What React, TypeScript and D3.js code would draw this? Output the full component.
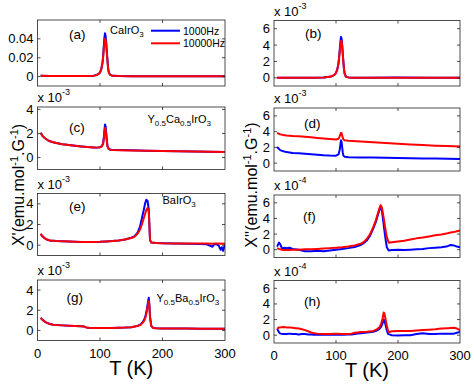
import React from 'react';
import * as d3 from 'd3';

// temperatures (K) and susceptibilities
// (b)-(h) are stored in units of the axis multiplier (x10^-3 / x10^-4)
const tA = [5, 20, 40, 60, 80, 90, 95, 98, 100, 102, 104, 105, 106, 107, 108, 109, 110, 111, 112, 113, 114, 116, 120, 130, 150, 200, 250, 300];
const a1000 = [0.0009, 0.0006, 0.0005, 0.0005, 0.0006, 0.001, 0.0018, 0.003, 0.0045, 0.008, 0.015, 0.022, 0.032, 0.041, 0.046, 0.043, 0.036, 0.026, 0.017, 0.009, 0.005, 0.002, 0.0008, 0.0005, 0.0004, 0.0003, 0.0003, 0.0003];
const a10000 = [0.0009, 0.0006, 0.0005, 0.0005, 0.0006, 0.001, 0.0017, 0.0028, 0.0042, 0.0075, 0.014, 0.02, 0.029, 0.036, 0.04, 0.039, 0.033, 0.024, 0.016, 0.0085, 0.0045, 0.0018, 0.0008, 0.0005, 0.0004, 0.0003, 0.0003, 0.0003];

const tB = tA;
const b1000 = [0.02, 0, 0, 0, 0.05, 0.12, 0.25, 0.4, 0.6, 1.0, 1.8, 2.5, 3.4, 4.3, 5.0, 4.8, 4.0, 2.9, 1.9, 1.0, 0.5, 0.15, 0.05, 0.02, 0, 0.03, 0.02, 0];
const b10000 = [0.02, 0, 0, 0, 0.05, 0.12, 0.25, 0.4, 0.6, 1.0, 1.7, 2.4, 3.2, 4.0, 4.5, 4.5, 3.8, 2.8, 1.8, 0.95, 0.45, 0.13, 0.05, 0.02, 0, 0.02, 0.01, 0];

const tC = [5, 8, 12, 16, 20, 25, 30, 40, 50, 60, 70, 80, 90, 95, 100, 103, 105, 106, 107, 108, 109, 110, 111, 112, 114, 116, 120, 130, 150, 175, 200, 225, 250, 275, 300];
const c1000 = [2.05, 1.8, 1.6, 1.45, 1.35, 1.27, 1.2, 1.1, 1.03, 0.97, 0.92, 0.88, 0.84, 0.82, 0.85, 0.95, 1.2, 1.6, 2.2, 2.75, 2.6, 2.0, 1.4, 0.95, 0.72, 0.66, 0.63, 0.62, 0.6, 0.56, 0.53, 0.52, 0.5, 0.48, 0.46];
const c10000 = [2.05, 1.8, 1.6, 1.45, 1.35, 1.27, 1.2, 1.1, 1.03, 0.97, 0.92, 0.88, 0.84, 0.82, 0.85, 0.93, 1.15, 1.5, 2.0, 2.45, 2.35, 1.85, 1.3, 0.9, 0.7, 0.65, 0.63, 0.61, 0.59, 0.56, 0.53, 0.51, 0.49, 0.47, 0.45];

const tD = [5, 10, 15, 20, 30, 40, 50, 60, 70, 80, 90, 100, 104, 106, 107, 108, 109, 110, 111, 112, 114, 120, 140, 160, 180, 200, 220, 240, 260, 280, 300];
const d1000 = [2.05, 1.65, 1.5, 1.4, 1.3, 1.25, 1.18, 1.12, 1.06, 1.0, 0.96, 0.95, 1.1, 1.7, 2.3, 2.9, 2.7, 2.0, 1.3, 0.95, 0.8, 0.75, 0.73, 0.7, 0.68, 0.66, 0.63, 0.6, 0.58, 0.55, 0.52];
const d10000 = [3.85, 3.65, 3.58, 3.52, 3.45, 3.4, 3.35, 3.28, 3.2, 3.13, 3.06, 3.0, 3.1, 3.4, 3.65, 3.85, 3.8, 3.5, 3.2, 3.0, 2.9, 2.85, 2.75, 2.65, 2.55, 2.45, 2.38, 2.3, 2.22, 2.16, 2.1];

const tE = [5, 8, 12, 16, 20, 30, 40, 50, 60, 70, 80, 90, 100, 110, 120, 130, 140, 150, 155, 160, 164, 167, 170, 172, 174, 176, 178, 179, 180, 182, 190, 200, 220, 240, 260, 270, 280, 283, 286, 290, 293, 295, 297, 299, 300];
const e1000 = [1.1, 0.85, 0.65, 0.52, 0.45, 0.4, 0.38, 0.35, 0.33, 0.3, 0.3, 0.3, 0.32, 0.36, 0.4, 0.46, 0.55, 0.72, 0.85, 1.2, 1.8, 2.6, 3.4, 4.0, 4.4, 4.3, 3.5, 2.0, 0.5, 0.25, 0.2, 0.18, 0.16, 0.14, 0.12, 0.1, -0.15, 0.1, 0.1, -0.05, -0.45, -0.2, -0.55, -0.1, 0.05];
const e10000 = [1.1, 0.85, 0.65, 0.52, 0.45, 0.4, 0.38, 0.35, 0.33, 0.3, 0.3, 0.3, 0.32, 0.36, 0.4, 0.46, 0.55, 0.7, 0.8, 1.1, 1.5, 2.0, 2.6, 3.0, 3.4, 3.6, 3.3, 2.0, 0.5, 0.25, 0.2, 0.18, 0.17, 0.16, 0.15, 0.15, 0.14, 0.15, 0.15, 0.15, 0.14, 0.15, 0.14, 0.14, 0.14];

const tF = [5, 8, 10, 13, 17, 20, 25, 30, 40, 50, 60, 70, 80, 90, 100, 110, 120, 130, 140, 145, 150, 155, 160, 164, 167, 170, 172, 174, 176, 178, 180, 182, 185, 190, 200, 210, 220, 230, 240, 250, 260, 270, 280, 285, 290, 295, 300];
const f1000 = [0.4, 0.9, 0.7, 0.15, 0.25, 0.2, 0.25, 0.1, 0, -0.2, -0.2, -0.15, -0.2, -0.1, 0, 0.1, 0.2, 0.35, 0.6, 0.85, 1.2, 1.8, 2.7, 3.5, 4.3, 5.1, 5.5, 5.0, 3.8, 2.5, 1.3, 0.3, -0.1, -0.05, 0, -0.05, 0, 0.05, 0.1, 0.2, 0.25, 0.3, 0.45, 0.6, 0.55, 0.4, 0.3];
const f10000 = [0.2, 0.1, 0.05, 0, -0.05, -0.05, -0.05, 0, 0, 0.05, 0.05, 0.1, 0.15, 0.2, 0.25, 0.3, 0.4, 0.55, 0.75, 1.0, 1.4, 2.0, 2.9, 3.7, 4.5, 5.3, 5.7, 5.4, 4.5, 3.5, 2.5, 1.6, 0.9, 0.95, 1.05, 1.15, 1.3, 1.45, 1.55, 1.7, 1.85, 1.95, 2.1, 2.2, 2.25, 2.35, 2.45];

const tG = [5, 8, 12, 16, 20, 25, 30, 40, 50, 60, 70, 74, 78, 82, 90, 100, 120, 140, 150, 160, 165, 168, 171, 173, 175, 177, 178, 179, 180, 182, 185, 190, 200, 220, 240, 260, 280, 300];
const g1000 = [1.25, 1.05, 0.85, 0.72, 0.63, 0.57, 0.53, 0.5, 0.47, 0.45, 0.42, 0.4, 0.3, 0.26, 0.25, 0.25, 0.25, 0.28, 0.32, 0.45, 0.6, 0.8, 1.1, 1.5, 2.1, 2.9, 3.25, 2.6, 1.4, 0.45, 0.25, 0.22, 0.2, 0.19, 0.18, 0.17, 0.17, 0.16];
const g10000 = [1.25, 1.05, 0.85, 0.72, 0.63, 0.57, 0.53, 0.5, 0.47, 0.45, 0.42, 0.4, 0.3, 0.26, 0.25, 0.25, 0.25, 0.28, 0.32, 0.43, 0.55, 0.75, 1.0, 1.35, 1.9, 2.6, 2.9, 2.4, 1.3, 0.45, 0.25, 0.22, 0.2, 0.19, 0.18, 0.17, 0.17, 0.16];

const tH = [5, 8, 10, 15, 20, 25, 30, 35, 40, 45, 50, 55, 60, 65, 70, 80, 90, 100, 110, 120, 125, 130, 135, 140, 150, 160, 165, 170, 173, 175, 177, 178, 180, 182, 184, 186, 190, 200, 210, 220, 230, 240, 250, 260, 270, 280, 290, 295, 300];
const h1000 = [0.8, 0.4, 0.2, 0.15, 0.15, 0.2, 0.15, 0.15, 0.1, 0.15, 0.15, 0.1, 0.1, 0.05, 0.1, 0.05, 0.05, 0.1, 0.05, 0.1, 0.1, 0.15, 0.2, 0.25, 0.35, 0.45, 0.55, 0.8, 1.1, 1.5, 2.0, 1.9, 1.3, 0.6, 0.15, 0.1, 0, -0.05, 0, 0, 0.15, 0.25, 0.15, 0.15, 0.2, 0.2, 0.2, 0.3, 0.4];
const h10000 = [0.8, 1.0, 1.0, 1.05, 1.0, 1.0, 0.95, 0.9, 0.85, 0.75, 0.65, 0.5, 0.35, 0.25, 0.2, 0.15, 0.15, 0.2, 0.15, 0.15, 0.2, 0.3, 0.35, 0.4, 0.45, 0.55, 0.7, 1.0, 1.5, 2.1, 2.9, 2.8, 2.0, 1.2, 0.5, 0.4, 0.5, 0.55, 0.55, 0.55, 0.6, 0.65, 0.7, 0.75, 0.85, 0.9, 0.95, 0.85, 0.65];

const tTicks = [0, 100, 200, 300];
const seriesNames = ['1000Hz', '10000Hz'];

const FONT = 'Liberation Sans, Arial, Helvetica, sans-serif';
const BLUE = '#0000ff';
const RED = '#ff0000';
const LEFT: [number, number] = [37.5, 225];
const RIGHT: [number, number] = [274, 460];

// sub-scripted compound names: [text, isSub]
const compA: [string, boolean][] = [['CaIrO', false], ['3', true]];
const compC: [string, boolean][] = [['Y', false], ['0.5', true], ['Ca', false], ['0.5', true], ['IrO', false], ['3', true]];
const compE: [string, boolean][] = [['BaIrO', false], ['3', true]];
const compG: [string, boolean][] = [['Y', false], ['0.5', true], ['Ba', false], ['0.5', true], ['IrO', false], ['3', true]];

const panels = [
  { id: 'a', col: LEFT, y: [20, 86], dom: [-0.01, 0.06], ticks: [0, 0.02, 0.04], t: tA, lo: a1000, hi: a10000, exp: '', lab: [31.5, 19], comp: compA, cpos: [72.5, 14] },
  { id: 'b', col: RIGHT, y: [20.5, 86], dom: [-1, 7], ticks: [0, 2, 4, 6], t: tB, lo: b1000, hi: b10000, exp: '-3', lab: [31, 17.5] },
  { id: 'c', col: LEFT, y: [107, 169.5], dom: [-1, 4.2], ticks: [0, 2, 4], t: tC, lo: c1000, hi: c10000, exp: '-3', lab: [31.5, 24.5], comp: compC, cpos: [110, 15.7] },
  { id: 'd', col: RIGHT, y: [108, 171], dom: [-1, 7], ticks: [0, 2, 4, 6], t: tD, lo: d1000, hi: d10000, exp: '-3', lab: [30, 20] },
  { id: 'e', col: LEFT, y: [193.5, 255.5], dom: [-1, 5], ticks: [0, 2, 4], t: tE, lo: e1000, hi: e10000, exp: '-3', lab: [31.5, 17.5], comp: compE, cpos: [125, 10] },
  { id: 'f', col: RIGHT, y: [195, 257.5], dom: [-1, 7], ticks: [0, 2, 4, 6], t: tF, lo: f1000, hi: f10000, exp: '-4', lab: [29, 25.5] },
  { id: 'g', col: LEFT, y: [280, 340.5], dom: [-1, 5], ticks: [0, 2, 4], t: tG, lo: g1000, hi: g10000, exp: '-3', lab: [29, 21.5], comp: compG, cpos: [119, 21.5] },
  { id: 'h', col: RIGHT, y: [280.5, 343], dom: [-1, 7], ticks: [0, 2, 4, 6], t: tH, lo: h1000, hi: h10000, exp: '-4', lab: [30, 25] },
];

function Panel({ p }: { p: any }) {
  const x = d3.scaleLinear().domain([0, 300]).range(p.col);
  const y = d3.scaleLinear().domain(p.dom).range([p.y[1], p.y[0]]);
  const [x0, x1] = p.col;
  const [y0, y1] = p.y;
  const line = d3.line<number>().x((_, i) => x(p.t[i])).y((d) => y(d));
  const fmt = (v: number) => (v === 0 ? '0' : p.id === 'a' ? v.toFixed(2) : String(v));
  const bottom = p.id === 'g' || p.id === 'h';
  return (
    <g>
      <defs>
        <clipPath id={'clip-' + p.id}>
          <rect x={x0} y={y0} width={x1 - x0} height={y1 - y0} />
        </clipPath>
      </defs>
      <rect x={x0} y={y0} width={x1 - x0} height={y1 - y0} fill="#fff" />
      <g clipPath={`url(#clip-${p.id})`}>
        <path d={line(p.lo) || ''} fill="none" stroke={BLUE} strokeWidth={2} strokeLinejoin="round" />
        <path d={line(p.hi) || ''} fill="none" stroke={RED} strokeWidth={2} strokeLinejoin="round" />
      </g>
      <rect x={x0} y={y0} width={x1 - x0} height={y1 - y0} fill="none" stroke="#222" strokeWidth={0.8} />
      {tTicks.slice(1, -1).map((t) => (
        <g key={'xt' + t} stroke="#222" strokeWidth={0.8}>
          <line x1={x(t)} x2={x(t)} y1={y1} y2={y1 - 3} />
          <line x1={x(t)} x2={x(t)} y1={y0} y2={y0 + 3} />
        </g>
      ))}
      {p.ticks.map((v: number) => (
        <g key={'yt' + v}>
          <line x1={x0} x2={x0 + 3} y1={y(v)} y2={y(v)} stroke="#222" strokeWidth={0.8} />
          <line x1={x1} x2={x1 - 3} y1={y(v)} y2={y(v)} stroke="#222" strokeWidth={0.8} />
          <text x={x0 - 4} y={y(v) + 4.5} textAnchor="end" fontSize={13}>{fmt(v)}</text>
        </g>
      ))}
      {bottom &&
        tTicks.map((t) => (
          <text key={'xl' + t} x={x(t)} y={y1 + 17} textAnchor="middle" fontSize={13}>{t}</text>
        ))}
      {p.exp && (
        <text x={x0} y={y0 - 5} fontSize={13}>
          x 10<tspan dy={-7} fontSize={9}>{p.exp}</tspan>
        </text>
      )}
      <text x={x0 + p.lab[0]} y={y0 + p.lab[1]} fontSize={13.5}>({p.id})</text>
      {p.comp && (
        <text x={x0 + p.cpos[0]} y={y0 + p.cpos[1]} fontSize={11}>
          {p.comp.map(([s, sub]: [string, boolean], i: number) => {
            const prevSub = i > 0 && p.comp[i - 1][1];
            const dy = sub && !prevSub ? 3 : !sub && prevSub ? -3 : 0;
            return (
              <tspan key={i} dy={dy} fontSize={sub ? 8 : 11}>{s}</tspan>
            );
          })}
        </text>
      )}
    </g>
  );
}

export default function App() {
  const legendY = [30.7, 43.3];
  return (
    <svg width={474} height={384} style={{ position: 'absolute', left: 0, top: 0 }} fontFamily={FONT}>
      <rect width={474} height={384} fill="#fff" />
      {panels.map((p) => (
        <Panel key={p.id} p={p} />
      ))}
      {seriesNames.map((name, i) => (
        <g key={name}>
          <line x1={151} x2={180} y1={legendY[i]} y2={legendY[i]} stroke={i === 0 ? BLUE : RED} strokeWidth={2} />
          <text x={183} y={legendY[i] + 3.8} fontSize={10.5}>{name}</text>
        </g>
      ))}
      <text transform="translate(24,185) rotate(-90)" textAnchor="middle" fontSize={16}>
        X'(emu.mol<tspan dy={-6} fontSize={11}>-1</tspan>
        <tspan dy={6}>.G</tspan>
        <tspan dy={-6} fontSize={11}>-1</tspan>
        <tspan dy={6}>)</tspan>
      </text>
      <text transform="translate(257,185) rotate(-90)" textAnchor="middle" fontSize={16}>
        X''(emu.mol<tspan dy={-6} fontSize={11}>-1</tspan>
        <tspan dy={6}>.G</tspan>
        <tspan dy={-6} fontSize={11}>-1</tspan>
        <tspan dy={6}>)</tspan>
      </text>
      <text x={(LEFT[0] + LEFT[1]) / 2} y={375} textAnchor="middle" fontSize={20}>T (K)</text>
      <text x={(RIGHT[0] + RIGHT[1]) / 2} y={377} textAnchor="middle" fontSize={20}>T (K)</text>
    </svg>
  );
}
